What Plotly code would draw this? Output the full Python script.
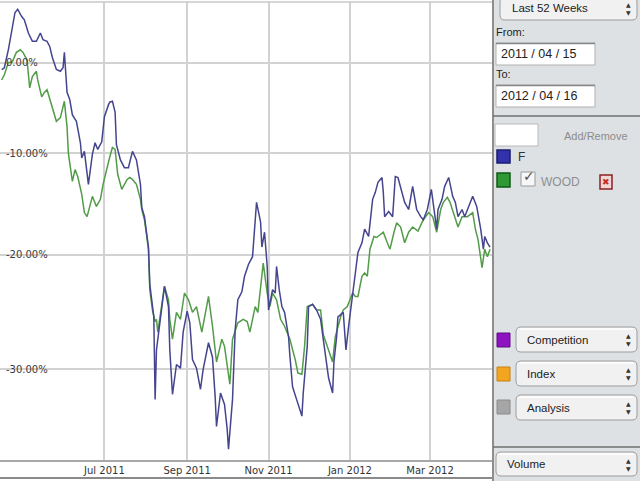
import plotly.graph_objects as go
import pandas as pd
import math

# ---------------- data ----------------
START = "2011-04-15"          # first day of the 52-week window
END = "2012-04-16"

# F : days since START, % change
f_days = [0, 2, 5, 8, 10, 12, 15, 17, 20, 23,
          26, 29, 31, 34, 36, 38, 41, 44, 46, 47,
          48, 49, 51, 53, 56, 59, 60, 62, 65, 68,
          70, 72, 75, 77, 80, 81, 83, 85, 86, 89,
          92, 95, 98, 101, 104, 105, 107, 110, 111, 113,
          114, 115, 116, 119, 121, 122, 125, 126, 128, 131,
          134, 136, 139, 141, 143, 146, 149, 151, 155, 158,
          160, 161, 164, 167, 169, 170, 173, 175, 177, 180,
          182, 185, 188, 190, 191, 194, 195, 197, 199, 200,
          203, 205, 206, 208, 210, 212, 215, 216, 218, 221,
          224, 225, 226, 229, 230, 233, 236, 239, 241, 242,
          245, 248, 249, 251, 252, 256, 258, 260, 263, 265,
          267, 270, 272, 275, 278, 280, 282, 285, 286, 287,
          290, 293, 295, 297, 300, 302, 305, 308, 311, 314,
          316, 319, 322, 323, 326, 327, 330, 332, 335, 338,
          340, 342, 345, 347, 351, 353, 356, 359, 361, 362,
          364, 366]
f_pct = [-0.8, -0.6, 1.5, 4.3, 6.0, 6.4, 5.5, 5.1, 3.5, 2.5,
         2.5, 3.5, 2.7, 2.5, 1.9, 0.6, -0.8, -1.0, -0.6, 1.2,
         -0.8, -3.4, -4.2, -5.9, -6.6, -8.9, -10.5, -9.8, -13.2, -10.1,
         -8.9, -9.6, -8.8, -6.1, -4.8, -4.5, -4.4, -5.6, -9.1, -10.7,
         -11.5, -11.5, -9.8, -10.7, -13.2, -15.5, -16.4, -19.3, -22.7, -24.7,
         -25.6, -32.4, -28.4, -25.7, -23.6, -22.9, -24.7, -28.4, -32.0, -29.6,
         -29.9, -26.9, -25.1, -26.1, -29.2, -29.9, -31.6, -30.0, -27.8, -29.0,
         -32.2, -34.5, -31.9, -32.8, -34.7, -36.2, -32.4, -26.7, -24.1, -23.4,
         -22.0, -20.9, -20.2, -17.0, -15.0, -16.9, -19.3, -17.9, -21.1, -25.0,
         -23.2, -23.5, -21.1, -23.2, -24.7, -25.2, -27.3, -28.9, -31.4, -32.4,
         -33.4, -33.7, -31.9, -28.1, -24.7, -24.5, -25.0, -25.8, -27.5, -28.4,
         -30.7, -31.9, -29.4, -27.3, -25.6, -25.2, -28.4, -26.4, -23.8, -22.0,
         -19.8, -18.9, -17.6, -18.3, -14.7, -14.0, -13.0, -12.5, -14.0, -16.4,
         -15.9, -16.4, -12.4, -12.5, -14.0, -15.0, -15.7, -13.4, -15.7, -16.4,
         -16.7, -15.7, -13.7, -14.7, -17.6, -15.7, -14.7, -13.4, -12.5, -14.4,
         -15.0, -16.4, -15.7, -16.4, -15.0, -14.4, -15.4, -17.6, -19.5, -18.3,
         -18.9, -19.3]

# WOOD : days since START, % change
wood_days = [0, 2, 5, 8, 11, 14, 16, 19, 21, 23,
             26, 27, 30, 32, 34, 36, 38, 41, 44, 46,
             47, 49, 50, 51, 53, 55, 57, 60, 62, 64,
             66, 68, 71, 74, 76, 79, 81, 83, 85, 87,
             90, 94, 96, 98, 101, 104, 105, 107, 110, 111,
             113, 115, 116, 117, 119, 121, 122, 125, 126, 128,
             131, 134, 137, 140, 143, 146, 150, 155, 158, 161,
             165, 167, 171, 173, 177, 181, 184, 186, 190, 192,
             195, 196, 199, 201, 203, 206, 209, 212, 216, 220,
             222, 225, 227, 229, 233, 236, 239, 241, 244, 248,
             250, 254, 256, 259, 263, 265, 267, 270, 272, 274,
             276, 279, 281, 284, 286, 289, 291, 294, 296, 299,
             302, 305, 308, 312, 316, 320, 323, 326, 329, 331,
             334, 336, 340, 342, 345, 349, 353, 355, 357, 360,
             362, 364, 366]
wood_pct = [-2.0, -1.4, 0.0, 0.1, 1.2, 1.5, 1.2, 0.3, -2.9, -1.6,
            -1.0, -2.0, -3.9, -3.4, -3.1, -4.2, -5.3, -6.6, -6.2, -5.0,
            -4.4, -7.2, -10.0, -11.0, -12.9, -11.7, -12.4, -14.2, -16.0, -16.4,
            -15.4, -14.4, -15.4, -14.7, -13.2, -11.4, -10.4, -9.4, -9.6, -12.2,
            -13.7, -12.7, -12.5, -12.7, -13.2, -14.7, -15.7, -16.7, -19.5, -23.2,
            -25.0, -26.0, -25.8, -26.9, -25.2, -23.6, -22.9, -24.1, -25.8, -27.5,
            -25.2, -25.8, -23.5, -24.1, -25.2, -24.7, -26.9, -23.8, -26.4, -29.4,
            -27.5, -28.1, -31.2, -27.5, -26.1, -25.8, -26.0, -26.9, -24.7, -25.2,
            -21.4, -20.8, -23.5, -24.7, -23.5, -24.1, -25.8, -26.4, -27.5, -29.2,
            -30.3, -30.4, -28.1, -24.7, -24.5, -25.0, -25.0, -27.1, -28.1, -29.4,
            -27.3, -25.6, -25.0, -24.7, -23.5, -23.8, -23.8, -22.0, -21.7, -22.0,
            -19.5, -18.3, -18.4, -18.1, -17.9, -18.9, -19.5, -17.9, -17.0, -17.4,
            -18.9, -17.9, -17.4, -17.8, -16.7, -16.0, -16.4, -17.9, -15.7, -15.0,
            -14.5, -15.0, -16.7, -17.4, -16.4, -16.4, -16.0, -17.6, -18.6, -21.2,
            -19.5, -20.2, -19.5]

y_tick_pct = [0, -10, -20, -30]
y_tick_text = ["0.00%", "-10.00%", "-20.00%", "-30.00%"]
x_tick_dates = ["2011-05-01", "2011-07-01", "2011-09-01", "2011-11-01", "2012-01-01", "2012-03-01"]
x_tick_text = ["", "Jul 2011", "Sep 2011", "Nov 2011", "Jan 2012", "Mar 2012"]

# ---------------- helpers ----------------
W, H = 640, 481
start = pd.Timestamp(START)


def to_dates(days):
    return [start + pd.Timedelta(days=d) for d in days]


def growth(pcts):
    return [1 + p / 100.0 for p in pcts]


def PX(x):
    return x / W


def PY(y):
    return 1 - y / H


fig = go.Figure()
fig.add_trace(go.Scatter(x=to_dates(wood_days), y=growth(wood_pct), mode="lines",
                         line=dict(color="#529c48", width=1.5), name="WOOD"))
fig.add_trace(go.Scatter(x=to_dates(f_days), y=growth(f_pct), mode="lines",
                         line=dict(color="#45458f", width=1.5), name="F"))

shapes = []
annots = []

SB = "#dde1e4"


def rect(x0, y0, x1, y1, fill, line="#a0a0a0", lw=1):
    shapes.append(dict(type="rect", xref="paper", yref="paper",
                       x0=PX(x0), x1=PX(x1), y0=PY(y1), y1=PY(y0),
                       fillcolor=fill, line=dict(color=line, width=lw), layer="above"))


def rrect(x0, y0, x1, y1, r, fill, line="#9a9a9a", lw=1):
    X0, X1, Y0, Y1 = PX(x0), PX(x1), PY(y0), PY(y1)
    rx, ry = r / W, r / H
    path = (f"M {X0+rx},{Y0} L {X1-rx},{Y0} Q {X1},{Y0} {X1},{Y0-ry} "
            f"L {X1},{Y1+ry} Q {X1},{Y1} {X1-rx},{Y1} L {X0+rx},{Y1} "
            f"Q {X0},{Y1} {X0},{Y1+ry} L {X0},{Y0-ry} Q {X0},{Y0} {X0+rx},{Y0} Z")
    shapes.append(dict(type="path", xref="paper", yref="paper", path=path,
                       fillcolor=fill, line=dict(color=line, width=lw), layer="above"))


def hline(x0, x1, y, color, lw):
    shapes.append(dict(type="line", xref="paper", yref="paper",
                       x0=PX(x0), x1=PX(x1), y0=PY(y), y1=PY(y),
                       line=dict(color=color, width=lw), layer="above"))


def vline(x, y0, y1, color, lw):
    shapes.append(dict(type="line", xref="paper", yref="paper",
                       x0=PX(x), x1=PX(x), y0=PY(y0), y1=PY(y1),
                       line=dict(color=color, width=lw), layer="above"))


def text(x, y, s, size=11, color="#222222", anchor="left", family="Liberation Sans"):
    annots.append(dict(xref="paper", yref="paper", x=PX(x), y=PY(y), text=s,
                       showarrow=False, xanchor=anchor, yanchor="middle",
                       font=dict(size=size, color=color, family=family)))


def dropdown(x0, y0, x1, y1, label, tx):
    rrect(x0, y0, x1, y1, 5, "#f1f1f1", "#9c9c9c", 1)
    hline(x0 + 4, x1 - 4, y0 + 2, "#ffffff", 1.5)
    text(tx, (y0 + y1) / 2, label, size=11.5, color="#222222")
    cx = x1 - 9
    cy = (y0 + y1) / 2
    text(cx, cy - 4, "▲", size=6, color="#333333", anchor="center", family="DejaVu Sans")
    text(cx, cy + 4, "▼", size=6, color="#333333", anchor="center", family="DejaVu Sans")


# sidebar background
rect(493, 0, 640, 481, SB, SB, 0)
vline(493, 0, 481, "#8e8e8e", 2)

dropdown(500, -3, 637, 20, "Last 52 Weeks", 510)
text(494, 32, "From:", size=11)
rect(496, 43, 595, 65, "#ffffff", "#b0b0b0", 1)
hline(496, 595, 43.5, "#888888", 1.5)
text(499, 54, "2011 / 04 / 15", size=12.5)
text(494, 74, "To:", size=11)
rect(496, 85, 595, 107, "#ffffff", "#b0b0b0", 1)
hline(496, 595, 85.5, "#888888", 1.5)
text(499, 96, "2012 / 04 / 16", size=12.5)
hline(493, 640, 116, "#6f6f6f", 1.5)

rect(495, 124, 538, 146, "#ffffff", "#b8b8b8", 1)
text(562, 136, "Add/Remove", size=11, color="#8c8c8c")

rect(497, 150, 510, 163, "#3232ad", "#1b1b6e", 1.5)
text(516, 157, "F", size=12, color="#333333")
rect(497, 173, 510, 187, "#2f9a35", "#125a18", 1.5)
rect(521, 172, 535, 186, "#f7f7f7", "#9a9a9a", 1)
text(529, 176, "✓", size=14, color="#555555", anchor="center", family="DejaVu Sans")
text(539, 182, "WOOD", size=12, color="#8f8f8f")
rect(600, 175, 612, 189, "#f2d6d6", "#8a2222", 1.5)
text(606, 182, "✖", size=9, color="#c62828", anchor="center", family="DejaVu Sans")

rect(497, 333, 510, 347, "#8d12c2", "#5c0a80", 1)
dropdown(516, 327, 637, 352, "Competition", 525)
rect(497, 367, 510, 381, "#f3a51f", "#c98010", 1)
dropdown(516, 361, 637, 386, "Index", 525)
rect(497, 400, 510, 414, "#a6a6a6", "#8a8a8a", 1)
dropdown(516, 395, 637, 420, "Analysis", 525)
hline(493, 640, 447, "#6f6f6f", 1.5)
dropdown(496, 452, 637, 476, "Volume", 505)

# chart frame
hline(0, 492, 2, "#c8c8c8", 1.5)
hline(0, 492, 478, "#8a8a8a", 2)

# axis ranges (log scale of growth factor)
x_range = [start - pd.Timedelta(hours=30), pd.Timestamp(END) + pd.Timedelta(hours=11)]
y_range = [math.log10(0.630), math.log10(1.073)]

fig.update_layout(
    width=W, height=H,
    margin=dict(l=0, r=0, t=0, b=0),
    paper_bgcolor="#ffffff",
    plot_bgcolor="#ffffff",
    showlegend=False,
    shapes=shapes,
    annotations=annots,
    font=dict(family="DejaVu Sans", size=10, color="#333333"),
    xaxis=dict(domain=[0, 492 / W], type="date", range=x_range,
               tickmode="array", tickvals=x_tick_dates, ticktext=x_tick_text,
               showgrid=True, gridcolor="#d2d2d2", gridwidth=1.5,
               showline=True, linecolor="#a8a8a8", linewidth=1.5,
               ticks="", tickfont=dict(family="DejaVu Sans", size=10, color="#333333"),
               automargin=False, zeroline=False, fixedrange=True),
    yaxis=dict(domain=[1 - 460 / H, 1 - 2 / H], type="log", range=y_range,
               tickmode="array", tickvals=growth(y_tick_pct), ticktext=y_tick_text,
               ticklabelposition="inside", ticklabelstandoff=5,
               showgrid=True, gridcolor="#d2d2d2", gridwidth=1.5,
               showline=True, linecolor="#c8c8c8", linewidth=1,
               ticks="", tickfont=dict(family="DejaVu Sans", size=10, color="#3a3a3a"),
               automargin=False, zeroline=False, fixedrange=True),
)

fig.write_html("out.html", config={"displayModeBar": False},
               post_script="document.body.style.margin='0';document.body.style.overflow='hidden';")
